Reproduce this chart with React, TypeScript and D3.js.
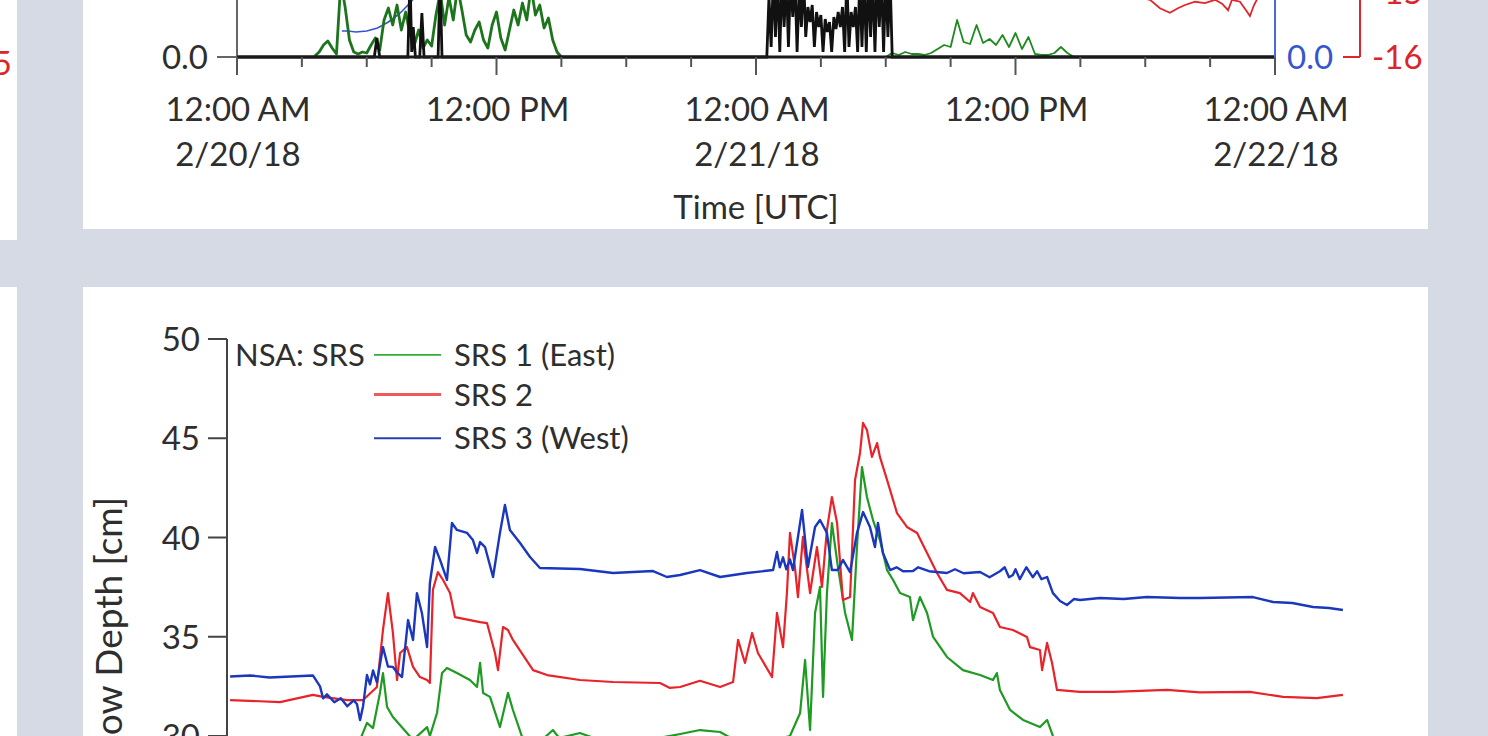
import React from 'react';
import * as d3 from 'd3';

const W = 1488;
const H = 736;
const FONT = "Lato, 'Open Sans', sans-serif";
const TEXT = '#2e2e2e';

// ---------- time base ----------
const T0 = Date.UTC(2018, 1, 20, 0, 0);
const T1 = Date.UTC(2018, 1, 22, 0, 0);
const toDate = (h: number) => new Date(T0 + h * 3600000);

// ---------- TOP PANEL DATA (hours since 2/20/18 00:00 UTC) ----------
// green precipitation series, sampled every 0.2 h starting 3.6 h
const greenTopStart1 = 3.6;
const greenTopStep1 = 0.2;
const greenTop1 = [
  0.01, 0.05, 0.12, 0.16, 0.09, 0.03, 0.75, 0.5, 0.17, 0.05,
  0.03, 0.05, 0.04, 0.12, 0.19, 0.07, 0.37, 0.49, 0.32, 0.52,
  0.27, 0.45, 0.22, 0.12, 0.27, 0.09, 0.17, 0.11, 0.42, 0.65,
  0.32, 0.6, 0.37, 0.7, 0.47, 0.22, 0.15, 0.27, 0.35, 0.17,
  0.09, 0.32, 0.45, 0.19, 0.07, 0.27, 0.47, 0.32, 0.54, 0.37,
  0.7, 0.42, 0.52, 0.29, 0.39, 0.17, 0.05, 0.0,
];
// second green episode, sampled every 0.3 h starting 30.0 h
const greenTopStart2 = 30.0;
const greenTopStep2 = 0.3;
const greenTop2 = [
  0.0, 0.04, 0.02, 0.05, 0.03, 0.03, 0.02, 0.04, 0.08, 0.12,
  0.1, 0.37, 0.15, 0.13, 0.32, 0.14, 0.18, 0.12, 0.22, 0.1,
  0.24, 0.08, 0.2, 0.03, 0.02, 0.02, 0.04, 0.1, 0.04, 0.0,
];
// black series: isolated spikes on day 1
const blackTopSpikes: [number, number][] = [
  [0, 0], [6.35, 0], [6.47, 0.19], [6.6, 0], [7.9, 0], [8.0, 0.8], [8.08, 0.05],
  [8.15, 0.3], [8.25, 0], [8.45, 0], [8.55, 0.44], [8.65, 0], [9.3, 0],
  [9.39, 0.8], [9.48, 0], [24.4, 0],
];
// black series: dense block on day 2, every 0.1 h starting 24.5 h
const blackTopStart2 = 24.5;
const blackTopStep2 = 0.1;
const blackTop2 = [
  0, 0.6, 0.1, 0.8, 0.2, 0.8, 0.05, 0.8, 0.3, 0.8,
  0.1, 0.8, 0.4, 0.8, 0.05, 0.7, 0.3, 0.8, 0.2, 0.5,
  0.35, 0.52, 0.1, 0.45, 0.3, 0.42, 0.05, 0.38, 0.25, 0.35,
  0.05, 0.4, 0.28, 0.45, 0.3, 0.5, 0.05, 0.8, 0.1, 0.45,
  0.3, 0.5, 0.05, 0.8, 0.1, 0.8, 0.05, 0.8, 0.2, 0.8,
  0.05, 0.8, 0.3, 0.8, 0.05, 0.8, 0.2, 0.8, 0.0, 0.0,
];
const blackTopTail: [number, number][] = [[30.6, 0], [48, 0]];
// blue (right axis, blue scale)
const blueTop: [number, number][] = [
  [4.85, 0.26], [5.13, 0.26], [5.5, 0.25], [6.0, 0.26], [6.5, 0.29],
  [7.0, 0.35], [7.5, 0.43], [8.0, 0.54], [8.5, 0.67],
];
// red (right axis, temperature)
const redTop: [number, number][] = [
  [41.76, -15.09], [42.22, -15.12], [42.68, -15.25], [43.14, -15.32], [43.51, -15.25],
  [43.84, -15.2], [44.3, -15.15], [44.76, -15.17], [45.23, -15.12], [45.55, -15.18],
  [45.83, -15.28], [46.01, -15.12], [46.38, -15.15], [46.66, -15.28], [46.84, -15.37],
  [47.03, -15.2], [47.21, -15.09],
];

// ---------- BOTTOM PANEL DATA: snow depth [cm] ----------
const srs3West: [number, number][] = [
  [-0.32, 33.0], [0.6, 33.05], [1.5, 32.95], [2.5, 33.0], [3.51, 33.05], [3.84, 32.5],
  [3.98, 31.9], [4.16, 32.1], [4.5, 31.7], [4.8, 31.9], [5.1, 31.5], [5.4, 31.8],
  [5.55, 31.6], [5.69, 30.8], [5.83, 31.5], [6.01, 33.07], [6.15, 32.6], [6.29, 33.3],
  [6.47, 32.7], [6.75, 34.48], [6.98, 33.5], [7.21, 33.48], [7.4, 33.2], [7.63, 32.97],
  [7.91, 35.84], [8.14, 34.84], [8.32, 37.2], [8.55, 36.2], [8.79, 34.48], [8.92, 37.71],
  [9.16, 39.52], [9.39, 38.87], [9.71, 37.86], [9.94, 40.73], [10.17, 40.38], [10.64, 40.23],
  [10.91, 39.87], [11.1, 39.22], [11.24, 39.77], [11.47, 39.52], [11.84, 38.01], [12.16, 40.23],
  [12.39, 41.64], [12.62, 40.38], [13.09, 39.72], [13.55, 39.02], [14.01, 38.46], [15.86, 38.41],
  [17.39, 38.21], [19.24, 38.31], [19.88, 38.01], [20.49, 38.11], [21.41, 38.36], [22.34, 38.01],
  [23.58, 38.21], [24.79, 38.36], [24.97, 39.27], [25.1, 38.5], [25.25, 39.0], [25.4, 38.4],
  [25.57, 38.9], [25.71, 38.36], [26.13, 41.39], [26.4, 38.51], [26.73, 40.53], [26.96, 40.88],
  [27.28, 40.23], [27.51, 38.36], [27.79, 38.36], [28.02, 38.87], [28.35, 38.26], [28.67, 40.23],
  [28.95, 41.28], [29.27, 40.53], [29.5, 39.52], [29.64, 40.73], [29.87, 39.22], [30.2, 38.36],
  [30.5, 38.5], [30.8, 38.3], [31.26, 38.31], [31.5, 38.5], [32.0, 38.3], [32.83, 38.21],
  [33.2, 38.4], [33.6, 38.2], [34.36, 38.26], [34.8, 38.0], [35.28, 38.3], [35.5, 38.5],
  [35.7, 38.0], [35.88, 38.11], [36.0, 38.4], [36.2, 37.9], [36.5, 38.5], [36.8, 38.0],
  [37.0, 38.3], [37.2, 37.9], [37.46, 38.01], [37.73, 37.2], [38.06, 36.8], [38.38, 36.6],
  [38.7, 36.9], [38.98, 36.85], [39.91, 36.95], [41.0, 36.9], [42.08, 37.0], [43.61, 36.95],
  [44.53, 36.95], [46.98, 37.0], [47.91, 36.75], [48.8, 36.7], [49.76, 36.5], [50.5, 36.45],
  [51.14, 36.35],
];
const srs2: [number, number][] = [
  [-0.32, 31.81], [1.99, 31.71], [3.51, 32.07], [3.98, 31.97], [5.09, 31.81], [5.83, 31.81],
  [6.47, 32.47], [6.75, 35.34], [6.98, 37.2], [7.21, 35.19], [7.4, 32.82], [7.54, 34.18],
  [7.86, 34.48], [8.14, 33.48], [8.46, 32.97], [8.79, 32.82], [8.92, 32.67], [9.06, 37.36],
  [9.29, 38.26], [9.53, 37.86], [9.85, 37.2], [10.08, 35.99], [10.31, 35.94], [11.24, 35.74],
  [11.56, 35.69], [11.93, 34.18], [12.07, 33.32], [12.3, 35.49], [12.53, 35.34], [12.76, 34.84],
  [13.69, 33.32], [14.34, 33.07], [15.86, 32.82], [17.39, 32.72], [19.56, 32.67], [20.02, 32.42],
  [20.49, 32.47], [21.41, 32.78], [22.34, 32.47], [22.94, 32.72], [23.17, 34.84], [23.49, 33.68],
  [23.82, 35.19], [24.09, 34.18], [24.74, 32.97], [24.97, 36.2], [25.25, 34.48], [25.43, 37.2],
  [25.57, 40.23], [25.8, 38.51], [25.94, 37.0], [26.17, 40.03], [26.5, 37.2], [26.82, 39.52],
  [27.05, 37.51], [27.28, 40.38], [27.51, 42.04], [27.75, 40.73], [28.02, 36.85], [28.35, 37.0],
  [28.58, 42.9], [28.81, 44.26], [28.95, 45.77], [29.13, 45.42], [29.36, 44.06], [29.6, 44.76],
  [29.73, 44.06], [30.06, 42.9], [30.52, 41.23], [30.98, 40.53], [31.45, 40.23], [31.91, 39.22],
  [32.37, 38.21], [32.83, 37.36], [33.43, 37.2], [33.9, 36.75], [34.03, 37.2], [34.36, 36.5],
  [34.96, 36.2], [35.28, 35.49], [35.88, 35.34], [36.53, 34.99], [36.67, 34.48], [37.13, 34.33],
  [37.23, 33.32], [37.46, 34.69], [37.69, 33.68], [37.92, 32.32], [38.98, 32.22], [40.51, 32.22],
  [43.01, 32.32], [44.53, 32.2], [46.84, 32.22], [48.37, 31.97], [49.94, 31.91], [51.14, 32.07],
];
const srs1East: [number, number][] = [
  [-0.32, 28.5], [5.5, 29.0], [5.69, 29.8], [6.01, 30.66], [6.29, 30.4], [6.61, 32.17],
  [6.75, 33.17], [6.94, 31.46], [7.21, 30.96], [7.86, 30.15], [8.14, 29.8], [8.79, 30.45],
  [8.92, 30.0], [9.25, 31.16], [9.48, 33.17], [9.71, 33.43], [10.17, 33.17], [10.77, 32.82],
  [11.1, 32.47], [11.24, 33.68], [11.38, 32.17], [11.7, 31.97], [12.16, 30.45], [12.53, 32.17],
  [12.76, 31.31], [13.23, 29.8], [14.0, 29.7], [14.61, 30.3], [14.9, 29.9], [15.86, 30.15],
  [16.5, 29.9], [17.5, 29.8], [19.5, 29.9], [20.5, 30.1], [21.41, 30.3], [22.34, 30.2],
  [23.0, 29.8], [24.5, 29.7], [25.57, 30.0], [26.04, 31.16], [26.27, 33.83], [26.5, 30.3],
  [26.73, 36.2], [26.96, 37.51], [27.1, 31.97], [27.28, 37.2], [27.51, 40.73], [27.79, 38.51],
  [28.12, 36.2], [28.44, 34.84], [28.67, 39.52], [28.9, 43.55], [29.13, 42.04], [29.41, 40.88],
  [29.73, 39.87], [30.06, 38.36], [30.34, 37.86], [30.66, 37.2], [31.12, 37.0], [31.26, 35.84],
  [31.58, 37.0], [31.91, 36.2], [32.19, 34.99], [32.83, 33.98], [33.57, 33.32], [34.36, 33.07],
  [34.96, 32.82], [35.14, 33.17], [35.28, 32.32], [35.75, 31.31], [36.35, 30.81], [37.13, 30.45],
  [37.46, 30.81], [37.73, 30.0], [38.0, 29.5],
];
const snowTicks = [30, 35, 40, 45, 50];
const legendItems = ['SRS 1 (East)', 'SRS 2', 'SRS 3 (West)'];
const legendColors = ['#35ad3a', '#ee5a5a', '#2a3fae'];

function sampled(start: number, step: number, vals: number[]): [number, number][] {
  return vals.map((v, i) => [start + i * step, v]);
}

export default function App() {
  const xTime = d3.scaleUtc().domain([new Date(T0), new Date(T1)]).range([237, 1275]);
  const yPrecip = d3.scaleLinear().domain([0, 1]).range([57, -43]);
  const yBlue = d3.scaleLinear().domain([0, 1]).range([57, -43]);
  const yRed = d3.scaleLinear().domain([-16, -15]).range([57, -8]);
  const ySnow = d3.scaleLinear().domain([30, 50]).range([736, 339]);

  const mk = (y: d3.ScaleLinear<number, number>) =>
    d3.line<[number, number]>().x((d) => xTime(toDate(d[0]))).y((d) => y(d[1]));

  const greenA = sampled(greenTopStart1, greenTopStep1, greenTop1);
  const greenB = sampled(greenTopStart2, greenTopStep2, greenTop2);
  const blackAll: [number, number][] = [
    ...blackTopSpikes,
    ...sampled(blackTopStart2, blackTopStep2, blackTop2),
    ...blackTopTail,
  ];

  const ticks = xTime.ticks(d3.utcHour.every(3) as any);
  const fmtTime = d3.utcFormat('%I:%M %p');
  const fmtDate = d3.utcFormat('%-m/%-d/%y');

  const legendY = [ySnow(49.2), ySnow(47.2), ySnow(45)];

  return (
    <svg
      width={W}
      height={H}
      style={{ position: 'fixed', left: 0, top: 0, background: '#d5dae4' }}
      fontFamily={FONT}
    >
      <rect x={0} y={0} width={W} height={H} fill="#d5dae4" />
      {/* left strip (neighbouring panel) */}
      <rect x={0} y={0} width={17} height={240} fill="#ffffff" />
      <rect x={0} y={287} width={17} height={H - 287} fill="#ffffff" />
      <text x={12} y={75} fontSize={33} fill="#d9262b" textAnchor="end">-15</text>

      {/* ---------------- TOP PANEL ---------------- */}
      <rect x={83} y={0} width={1345} height={229} fill="#ffffff" />
      <path d={mk(yBlue)(blueTop) || ''} fill="none" stroke="#3552d0" strokeWidth={1.6} />
      <path d={mk(yPrecip)(greenA) || ''} fill="none" stroke="#1c741c" strokeWidth={2.8} strokeLinejoin="round" />
      <path d={mk(yPrecip)(greenB) || ''} fill="none" stroke="#1f8a1f" strokeWidth={1.8} strokeLinejoin="round" />
      <path d={mk(yPrecip)(blackAll) || ''} fill="none" stroke="#111111" strokeWidth={2.8} />
      <path d={mk(yRed as any)(redTop) || ''} fill="none" stroke="#e0262b" strokeWidth={1.8} />

      {/* left axis */}
      <line x1={237} y1={-5} x2={237} y2={57} stroke="#666" strokeWidth={2} />
      <line x1={217} y1={yPrecip(0)} x2={237} y2={yPrecip(0)} stroke="#666" strokeWidth={2} />
      <text x={208} y={yPrecip(0) + 12} fontSize={33} fill={TEXT} textAnchor="end">
        {d3.format('.1f')(0)}
      </text>
      {/* x axis */}
      <line x1={237} y1={57} x2={1275} y2={57} stroke="#1a1a1a" strokeWidth={3} />
      {ticks.map((t, i) => {
        const major = t.getUTCHours() % 12 === 0;
        const x = xTime(t);
        return (
          <g key={i}>
            <line x1={x} y1={57} x2={x} y2={major ? 75 : 67} stroke="#555" strokeWidth={2} />
            {major && (
              <text x={x + 1} y={121} fontSize={33} fill={TEXT} textAnchor="middle">
                {fmtTime(t)}
              </text>
            )}
            {major && t.getUTCHours() === 0 && (
              <text x={x + 1} y={166} fontSize={33} fill={TEXT} textAnchor="middle">
                {fmtDate(t)}
              </text>
            )}
          </g>
        );
      })}
      <text x={756} y={219} fontSize={33} fill={TEXT} textAnchor="middle">Time [UTC]</text>

      {/* right blue axis */}
      <line x1={1275} y1={-5} x2={1275} y2={57} stroke="#4a68e0" strokeWidth={2} />
      <text x={1287} y={yBlue(0) + 12} fontSize={33} fill="#3556cc">{d3.format('.1f')(0)}</text>
      {/* right red axis */}
      <line x1={1360} y1={-5} x2={1360} y2={yRed(-16)} stroke="#e0262b" strokeWidth={2} />
      <line x1={1343} y1={yRed(-16)} x2={1360} y2={yRed(-16)} stroke="#e0262b" strokeWidth={2} />
      {[-16, -15].map((v) => (
        <text key={v} x={1372} y={yRed(v) + 12} fontSize={33} fill="#d9262b">{v}</text>
      ))}

      {/* ---------------- BOTTOM PANEL ---------------- */}
      <rect x={83} y={287} width={1345} height={H - 287} fill="#ffffff" />
      <line x1={227} y1={ySnow(50)} x2={227} y2={H + 5} stroke="#444" strokeWidth={2} />
      {snowTicks.map((v) => (
        <g key={v}>
          <line x1={208} y1={ySnow(v)} x2={227} y2={ySnow(v)} stroke="#444" strokeWidth={2} />
          <text x={200} y={ySnow(v) + 12} fontSize={33} fill={TEXT} textAnchor="end">{v}</text>
        </g>
      ))}
      <text
        transform={`translate(122, 497) rotate(-90)`}
        fontSize={37}
        fill={TEXT}
        textAnchor="end"
      >
        Snow Depth [cm]
      </text>

      <path d={mk(ySnow)(srs1East) || ''} fill="none" stroke="#1f9a22" strokeWidth={2.2} strokeLinejoin="round" />
      <path d={mk(ySnow)(srs2) || ''} fill="none" stroke="#e8232a" strokeWidth={2.2} strokeLinejoin="round" />
      <path d={mk(ySnow)(srs3West) || ''} fill="none" stroke="#1b37bd" strokeWidth={2.4} strokeLinejoin="round" />

      {/* legend */}
      <text x={235} y={legendY[0] + 11} fontSize={31} fill={TEXT}>NSA: SRS</text>
      {legendItems.map((name, i) => (
        <g key={name}>
          <line
            x1={374}
            y1={legendY[i]}
            x2={441}
            y2={legendY[i]}
            stroke={legendColors[i]}
            strokeWidth={i === 1 ? 3 : 1.8}
          />
          <text x={454} y={legendY[i] + 11} fontSize={31} fill={TEXT}>{name}</text>
        </g>
      ))}
    </svg>
  );
}
